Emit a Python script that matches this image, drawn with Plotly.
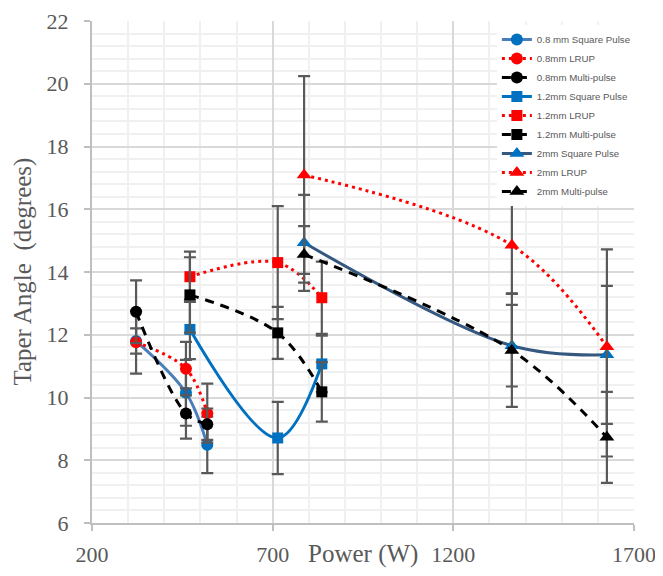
import plotly.graph_objects as go

# ---- data ----
x_08 = [322, 460, 519]
sq_08 = [11.80, 10.15, 8.49]
sq_08_err = [0.40, 1.05, 0.90]
lr_08 = [11.76, 10.92, 9.50]
lr_08_err = [1.00, 0.85, 0.94]
mp_08 = [12.73, 9.49, 9.15]
mp_08_err = [1.00, 0.80, 0.50]

x_12 = [471, 714, 836]
sq_12 = [12.17, 8.71, 11.07]
sq_12_err = [0.95, 1.15, 0.90]
lr_12 = [13.85, 14.30, 13.18]
lr_12_err = [0.80, 1.80, 1.15]
mp_12 = [13.27, 12.06, 10.18]
mp_12_err = [1.20, 0.83, 0.95]

x_2 = [787, 1362, 1625]
sq_2 = [14.93, 11.65, 11.36]
sq_2_err = [1.53, 1.30, 2.20]
lr_2 = [17.09, 14.85, 11.62]
lr_2_err_plus = [3.15, 1.53, 3.10]
lr_2_err_minus = [3.15, 1.53, 3.50]
mp_2 = [14.56, 11.50, 8.73]
mp_2_err = [0.90, 1.80, 1.45]

x_ticks = [200, 700, 1200, 1700]

BLUE = "#0070C0"
RED = "#FF0000"
BLACK = "#000000"
ERR = "#595959"

fig = go.Figure()


def add(name, x, y, color, dash, symbol, msize, plus, minus=None, linecolor=None, lw=2.5):
    err = dict(type="data", array=plus, color=ERR, thickness=2.2, width=6, visible=True)
    if minus is not None:
        err["symmetric"] = False
        err["arrayminus"] = minus
    fig.add_trace(go.Scatter(
        x=x, y=y, name=name, mode="lines+markers",
        line=dict(color=linecolor or color, width=lw, dash=dash, shape="spline", smoothing=1.0),
        marker=dict(color=color, symbol=symbol, size=msize, line=dict(width=0)),
        error_y=err,
    ))


add("0.8 mm Square Pulse", x_08, sq_08, BLUE, "solid", "circle", 12, sq_08_err, linecolor="#4A7EBB", lw=3)
add("0.8mm LRUP", x_08, lr_08, RED, "3px,4px", "circle", 12, lr_08_err, lw=3)
add("0.8mm Multi-pulse", x_08, mp_08, BLACK, "9px,7px", "circle", 12, mp_08_err, lw=3)
add("1.2mm Square Pulse", x_12, sq_12, BLUE, "solid", "square", 11, sq_12_err, lw=3)
add("1.2mm LRUP", x_12, lr_12, RED, "3px,4px", "square", 11, lr_12_err, lw=3)
add("1.2mm Multi-pulse", x_12, mp_12, BLACK, "9px,7px", "square", 11, mp_12_err, lw=3)
add("2mm Square Pulse", x_2, sq_2, BLUE, "solid", "triangle-up", 13, sq_2_err, linecolor="#34587F", lw=3)
add("2mm LRUP", x_2, lr_2, RED, "3px,4px", "triangle-up", 13, lr_2_err_plus, lr_2_err_minus, lw=3)
add("2mm Multi-pulse", x_2, mp_2, BLACK, "9px,7px", "triangle-up", 13, mp_2_err, lw=3)

tick_font = dict(family="Liberation Serif", size=22, color="#595959")
title_font = dict(family="Liberation Serif", size=25, color="#595959")

# the page body adds an 8px offset, so margins compensate for it
fig.update_layout(
    width=663, height=576,
    margin=dict(l=84, r=37, t=13, b=61, autoexpand=False),
    paper_bgcolor="white", plot_bgcolor="white",
    showlegend=True,
    legend=dict(
        x=0.747, y=0.992, xanchor="left", yanchor="top",
        bgcolor="white", borderwidth=0,
        font=dict(family="Liberation Sans", size=9.7, color="#595959"),
        tracegroupgap=0,
    ),
    xaxis=dict(
        range=[200, 1700], tickmode="array", tickvals=x_ticks,
        showgrid=True, gridcolor="#D9D9D9", gridwidth=1.5,
        minor=dict(dtick=100, showgrid=True, gridcolor="#F0F0F0", gridwidth=1.5),
        showline=True, linecolor="#BFBFBF", linewidth=2,
        ticks="outside", ticklen=6, tickcolor="#BFBFBF", tickwidth=2,
        tickfont=tick_font, zeroline=False, automargin=False,
        ticklabelstandoff=5, ticklabeloverflow="allow",
    ),
    yaxis=dict(
        range=[6, 22], dtick=2, tick0=6,
        showgrid=True, gridcolor="#D9D9D9", gridwidth=1.5,
        minor=dict(dtick=0.4, showgrid=True, gridcolor="#F0F0F0", gridwidth=1.5),
        showline=True, linecolor="#BFBFBF", linewidth=2,
        ticks="outside", ticklen=6, tickcolor="#BFBFBF", tickwidth=2,
        tickfont=tick_font, zeroline=False, automargin=False,
        ticklabelstandoff=11, ticklabeloverflow="allow",
    ),
    annotations=[
        dict(text="Power (W)", x=0.5, y=-0.061, xref="paper", yref="paper",
             xanchor="center", yanchor="middle", showarrow=False, font=title_font),
        dict(text="Taper Angle  (degrees)", x=-0.128, y=0.5, xref="paper", yref="paper",
             xanchor="center", yanchor="middle", textangle=-90, showarrow=False, font=title_font),
    ],
)

fig.write_html("out.html")
